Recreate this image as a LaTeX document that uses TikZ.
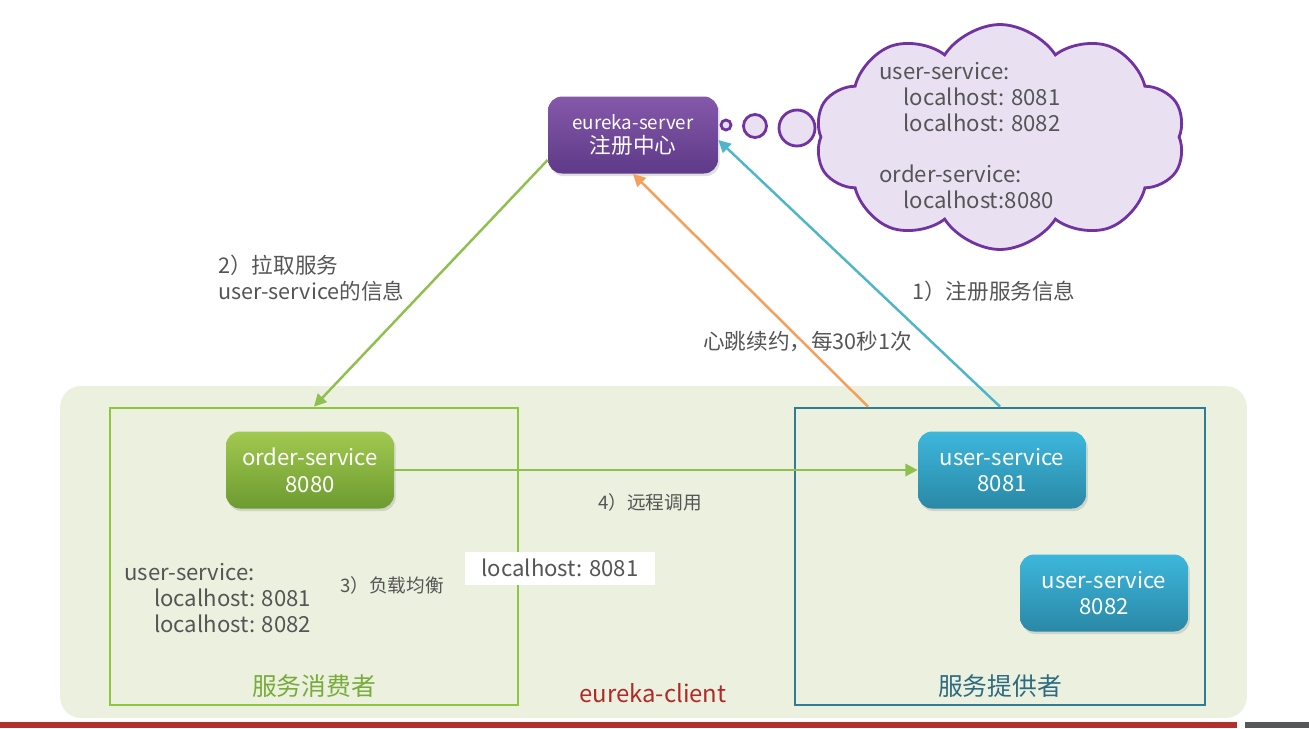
\documentclass[tikz,border=0pt]{standalone}
\usepackage{fontspec}
\newfontfamily\cjk{Noto Sans CJK SC}
\usetikzlibrary{arrows.meta,positioning,shapes.symbols,shadows}

\definecolor{srvTop}{HTML}{8558AA}
\definecolor{srvBot}{HTML}{5E3A88}
\definecolor{conTop}{HTML}{A2C950}
\definecolor{conBot}{HTML}{6C9B30}
\definecolor{proTop}{HTML}{3DB7DC}
\definecolor{proBot}{HTML}{2A88A6}
\definecolor{bubLine}{HTML}{7233A2}
\definecolor{bubFill}{HTML}{E9E1F2}
\definecolor{clientBg}{HTML}{EBF0DF}
\definecolor{conLine}{HTML}{8DC63F}
\definecolor{conText}{HTML}{78AC3A}
\definecolor{proLine}{HTML}{2F7C95}
\definecolor{proText}{HTML}{2D6C80}
\definecolor{clientRed}{HTML}{B02A2A}
\definecolor{pullGreen}{HTML}{8FBF4F}
\definecolor{beatOrange}{HTML}{F4A05A}
\definecolor{regBlue}{HTML}{4FB5C9}
\definecolor{txtGray}{HTML}{555555}
\definecolor{barRed}{HTML}{B0302E}
\definecolor{barGray}{HTML}{555858}

\begin{document}
\begin{tikzpicture}[x=0.02cm,y=-0.02cm,>={Triangle[length=7pt,width=7pt]},
 svc/.style={rounded corners=8pt,minimum width=3.36cm,minimum height=1.54cm,align=center,
   text=white,font=\cjk\fontsize{12.6}{15.3}\selectfont,
   drop shadow={opacity=0.25,shadow xshift=1pt,shadow yshift=-1.5pt}},
 registry/.style={svc,top color=srvTop,bottom color=srvBot,minimum width=3.4cm,
   font=\cjk\fontsize{10.7}{13.6}\selectfont},
 consumer/.style={svc,top color=conTop,bottom color=conBot},
 provider/.style={svc,top color=proTop,bottom color=proBot},
 bubble/.style={circle,draw=bubLine,fill=bubFill,line width=1.6pt,inner sep=0pt},
 group/.style={line width=1.6pt,minimum height=5.94cm},
 note/.style={text=txtGray,align=left,anchor=west,font=\cjk\fontsize{12.3}{14.7}\selectfont},
 smallnote/.style={note,font=\cjk\fontsize{10.6}{12}\selectfont},
 list/.style={text=txtGray,align=left,anchor=north west,inner sep=0pt,
   font=\cjk\fontsize{12.6}{14.7}\selectfont},
 flow/.style={->,line width=1.4pt}]
\useasboundingbox (0,0) rectangle (1309,728);

% client area and the two groups
\node[fill=clientBg,rounded corners=12pt,minimum width=23.74cm,minimum height=6.64cm] (client) at (653.5,552) {};
\node[group,draw=conLine,minimum width=8.16cm] (consumers) at (314,556.5) {};
\node[group,draw=proLine,minimum width=8.2cm] (providers) at (1000,556.5) {};
\node[text=conText,font=\cjk\fontsize{14.1}{16}\selectfont] (conlabel) at (314,686) {服务消费者};
\node[text=proText,font=\cjk\fontsize{14.1}{16}\selectfont] (prolabel) at (1000,686) {服务提供者};
\node[text=clientRed,font=\cjk\fontsize{13.6}{15}\selectfont] (clientlabel) at (653,693) {eureka-client};

% services
\node[registry] (server) at (633,135) {eureka-server\\{\fontsize{12.3}{13.6}\selectfont 注册中心}};
\node[consumer] (order) at (310,470) {order-service\\8080};
\node[provider] (user1) at (1002,470) {user-service\\8081};
\node[provider] (user2) at (1104,593) {user-service\\8082};

% thought bubble with the registry
\node[bubble,minimum size=0.2cm] (b1) at (726,125) {};
\node[bubble,minimum size=0.46cm] (b2) at (755,126) {};
\node[bubble,minimum size=0.72cm] (b3) at (797,128) {};
\node[cloud,cloud puffs=10,cloud puff arc=115,cloud ignores aspect,
  draw=bubLine,fill=bubFill,line width=1.6pt,
  minimum width=7.4cm,minimum height=4.5cm] (cloud) at (1000,137) {};
\node[list] (reglist) at (879,62) {user-service:\\\hspace*{1.1em}localhost: 8081\\\hspace*{1.1em}localhost: 8082\\[14.7pt]order-service:\\\hspace*{1.1em}localhost:8080};

% consumer side notes
\node[list] (cache) at (124,563) {user-service:\\\hspace*{1.35em}localhost: 8081\\\hspace*{1.35em}localhost: 8082};
\node[smallnote] (balance) at (334,585) {3）负载均衡};
\node[fill=white,minimum width=3.8cm,minimum height=0.66cm,text=txtGray,
  font=\cjk\fontsize{12.6}{14}\selectfont] (picked) at (560,568) {localhost: 8081};

% connectors
\draw[flow,pullGreen] ([yshift=-0.5cm]server.west) -- (consumers.north);
\draw[flow,beatOrange] ([xshift=-2.64cm]providers.north) -- (server.south);
\draw[flow,regBlue] (providers.north) -- ([yshift=-0.1cm]server.east);
\draw[flow,pullGreen] (order.east) -- (user1.west);

% connector labels
\node[note] (pull) at (212,278) {2）拉取服务\\user-service的信息};
\node[note] (register) at (906,291) {1）注册服务信息};
\node[note] (beat) at (697,342) {心跳续约，每30秒1次};
\node[smallnote] (call) at (592,502) {4）远程调用};

% player bar
\fill[barRed] (0,722) rectangle (1237,728);
\fill[barGray] (1245,722) rectangle (1309,728);
\end{tikzpicture}
\end{document}
